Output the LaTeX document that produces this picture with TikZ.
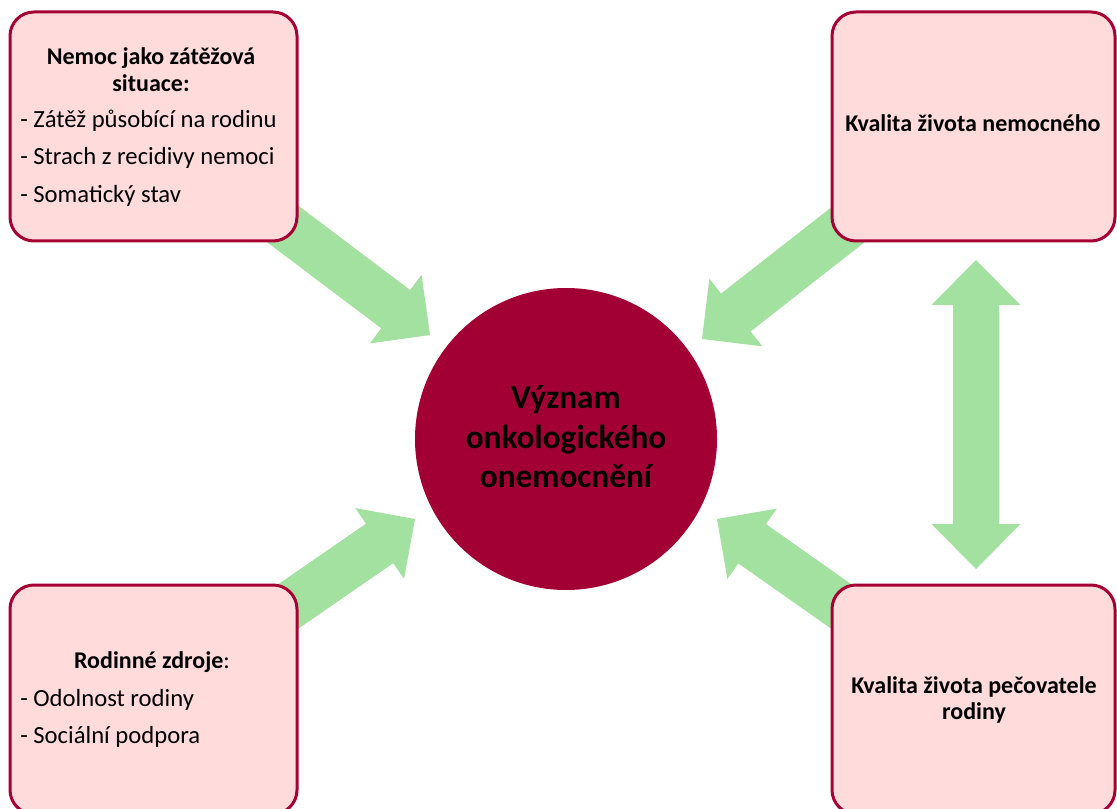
\documentclass[tikz,border=0pt]{standalone}
\usepackage{fontspec}
\setmainfont{Carlito}
\usetikzlibrary{calc}
\pgfdeclarelayer{bg}
\pgfsetlayers{bg,main}
\definecolor{boxfill}{RGB}{255,219,219}
\definecolor{boxline}{RGB}{165,0,52}
\definecolor{circfill}{RGB}{162,0,52}
\definecolor{arrowgreen}{RGB}{163,225,160}
% #1 from, #2 to, #3 half shaft width, #4 half head width, #5 head length
\newcommand\greenarrow[5]{%
  \coordinate (ga-b) at ($(#2)!#5!(#1)$);
  \fill[arrowgreen] ($(#1)!#3!90:(#2)$) -- ($(ga-b)!#3!-90:(#1)$)
    -- ($(ga-b)!#4!-90:(#1)$) -- (#2) -- ($(ga-b)!#4!90:(#1)$)
    -- ($(ga-b)!#3!90:(#1)$) -- ($(#1)!#3!-90:(#2)$) -- cycle;}
\begin{document}
\begin{tikzpicture}[x=0.75pt,y=-0.75pt,
  box/.style={draw=boxline, line width=2.25pt, fill=boxfill, rounded corners=18pt,
    minimum height=171.75pt, inner sep=0pt},
  boxtxt/.style={font=\fontsize{18.5}{22}\selectfont, inner sep=0pt, text=black},
  boxtitle/.style={font=\fontsize{18}{22}\selectfont\bfseries, inner sep=0pt, text=black},
  circtxt/.style={font=\fontsize{25}{30}\selectfont\bfseries, inner sep=0pt, text=black}
]
\useasboundingbox (0,0) rectangle (1117,809);
\clip (0,0) rectangle (1117,809);

% boxes
\node[box, minimum width=215.25pt] (tl) at (153.5,126.5) {};
\node[box, minimum width=212.25pt] (tr) at (973.5,126.5) {};
\node[box, minimum width=215.25pt] (bl) at (153.5,699.5) {};
\node[box, minimum width=212.25pt] (br) at (973.5,699.5) {};

% centre circle
\node[circle, fill=circfill, minimum size=226.5pt, inner sep=0pt] (c) at (566,439) {};
\node[circtxt, anchor=base] (c1) at (566,408) {Význam};
\node[circtxt, anchor=base] (c2) at (566,448) {onkologického};
\node[circtxt, anchor=base] (c3) at (566,487) {onemocnění};

% texts top-left
\node[boxtitle, anchor=base] (tl1) at (151,65) {Nemoc jako zátěžová};
\node[boxtitle, anchor=base] (tl2) at (151,92) {situace:};
\node[boxtxt, anchor=base west] (tl3) at (20,128) {- Zátěž působící na rodinu};
\node[boxtxt, anchor=base west] (tl4) at (20,165) {- Strach z recidivy nemoci};
\node[boxtxt, anchor=base west] (tl5) at (20,203) {- Somatický stav};

% top-right
\node[boxtitle, anchor=base] (tr1) at (973,132) {Kvalita života nemocného};

% bottom-left
\node[boxtxt, anchor=base] (bl1) at (152,668) {\fontsize{18}{22}\selectfont\textbf{Rodinné zdroje}:};
\node[boxtxt, anchor=base west] (bl2) at (20,706) {- Odolnost rodiny};
\node[boxtxt, anchor=base west] (bl3) at (20,743) {- Sociální podpora};

% bottom-right
\node[boxtitle, anchor=base] (br1) at (974,693) {Kvalita života pečovatele};
\node[boxtitle, anchor=base] (br2) at (974,719) {rodiny};

% arrow tips
\coordinate (tipTL) at (430,335);
\coordinate (tipTR) at (702,339);
\coordinate (tipBL) at (415,519);
\coordinate (tipBR) at (717,519);
\coordinate (dtop) at (976,260);
\coordinate (dbot) at (976,569);

\begin{pgfonlayer}{bg}
\greenarrow{tl.center}{tipTL}{18pt}{32.25pt}{32.25pt}
\greenarrow{tr.center}{tipTR}{18pt}{32.25pt}{32.25pt}
\greenarrow{bl.center}{tipBL}{18pt}{32.25pt}{32.25pt}
\greenarrow{br.center}{tipBR}{18pt}{32.25pt}{32.25pt}
\fill[arrowgreen] (dtop) -- ($(dtop)+(44.5,45)$) -- ($(dtop)+(23,45)$)
  -- ($(dbot)+(23,-45)$) -- ($(dbot)+(44.5,-45)$) -- (dbot)
  -- ($(dbot)+(-44.5,-45)$) -- ($(dbot)+(-23,-45)$)
  -- ($(dtop)+(-23,45)$) -- ($(dtop)+(-44.5,45)$) -- cycle;
\end{pgfonlayer}
\end{tikzpicture}
\end{document}
